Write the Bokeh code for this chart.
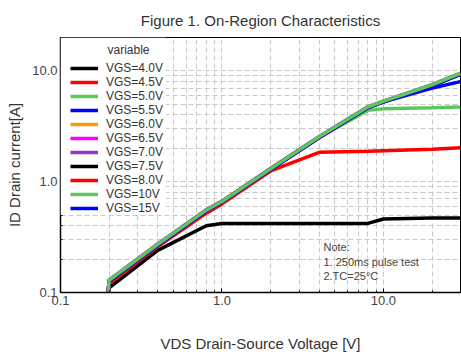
from bokeh.plotting import figure
from bokeh.models import (Range1d, FixedTicker, PrintfTickFormatter, Legend, LegendItem,
                          Label, BoxAnnotation)
from bokeh.embed import file_html
from bokeh.resources import INLINE

# ---- data ----
vds = [0.195, 0.2, 0.4, 0.8, 1.0, 2.0, 4.0, 8.0, 10.0, 20.0, 30.0]

vgs_labels = ["VGS=4.0V", "VGS=4.5V", "VGS=5.0V", "VGS=5.5V", "VGS=6.0V", "VGS=6.5V",
              "VGS=7.0V", "VGS=7.5V", "VGS=8.0V", "VGS=10V", "VGS=15V"]

id_4v0 = [0.08, 0.11, 0.24, 0.40, 0.42, 0.42, 0.42, 0.42, 0.46, 0.47, 0.47]
id_4v5 = [0.08, 0.12, 0.26, 0.52, 0.63, 1.25, 1.84, 1.88, 1.90, 1.96, 2.02]
id_5v0 = [0.08, 0.128, 0.27, 0.55, 0.66, 1.30, 2.50, 4.40, 4.55, 4.65, 4.72]
id_5v5 = [0.08, 0.128, 0.27, 0.55, 0.66, 1.30, 2.52, 4.65, 5.25, 7.00, 8.00]
id_6v0 = [0.08, 0.128, 0.27, 0.55, 0.66, 1.30, 2.52, 4.70, 5.30, 7.35, 9.30]
id_6v5 = [0.08, 0.128, 0.27, 0.55, 0.66, 1.30, 2.53, 4.70, 5.30, 7.40, 9.40]
id_7v0 = [0.08, 0.130, 0.274, 0.558, 0.668, 1.315, 2.56, 4.74, 5.34, 7.50, 9.55]
id_7v5 = [0.08, 0.127, 0.268, 0.548, 0.658, 1.295, 2.52, 4.68, 5.28, 7.38, 9.38]
id_8v0 = [0.08, 0.125, 0.266, 0.543, 0.652, 1.285, 2.49, 4.66, 5.26, 7.35, 9.35]
id_10v = [0.08, 0.129, 0.272, 0.553, 0.663, 1.305, 2.54, 4.72, 5.32, 7.47, 9.52]
id_15v = [0.08, 0.126, 0.267, 0.545, 0.654, 1.29, 2.50, 4.64, 5.24, 7.32, 9.30]

series = [id_4v0, id_4v5, id_5v0, id_5v5, id_6v0, id_6v5, id_7v0, id_7v5, id_8v0, id_10v, id_15v]
colors = ["#000000", "#ff0000", "#5cc85c", "#0000ff", "#ff9900", "#ff00ff",
          "#9933cc", "#000000", "#ff0000", "#5cc85c", "#0000ff"]
# drawing order (VGS=10V drawn last so it sits on top of the bundle)
draw_order = [0, 1, 2, 3, 4, 5, 6, 7, 8, 10, 9]

x_major = [0.1, 1.0, 10.0]
x_minor = [0.2, 0.3, 0.4, 0.5, 0.6, 0.7, 0.8, 0.9, 2, 3, 4, 5, 6, 7, 8, 9, 20, 30]
y_major = [0.1, 1.0, 10.0]
y_minor = [0.2, 0.3, 0.4, 0.5, 0.6, 0.7, 0.8, 0.9, 2, 3, 4, 5, 6, 7, 8, 9, 20]

title_text = "Figure 1. On-Region Characteristics"
x_label = "VDS Drain-Source Voltage [V]"
y_label = "ID Drain current[A]"
legend_title = "variable"
note_text = "Note:\n1. 250ms pulse test\n2.TC=25°C"

FONT = "Liberation Sans"

p = figure(width=461, height=356, x_axis_type="log", y_axis_type="log",
           x_range=Range1d(0.1, 30), y_range=Range1d(0.1, 20),
           output_backend="svg", toolbar_location=None, title=title_text,
           min_border_left=60, min_border_right=1, min_border_top=37, min_border_bottom=64)

p.title.align = "center"
p.title.text_font = FONT
p.title.text_font_size = "15px"
p.title.text_font_style = "normal"
p.title.text_color = "#333333"
p.title.standoff = 18

p.outline_line_color = "#000000"
p.outline_line_width = 1

for ax, maj, mnr in ((p.xaxis[0], x_major, x_minor), (p.yaxis[0], y_major, y_minor)):
    ax.ticker = FixedTicker(ticks=maj, minor_ticks=mnr)
    ax.formatter = PrintfTickFormatter(format="%.1f")
    ax.major_tick_in = 4
    ax.major_tick_out = 0
    ax.minor_tick_in = 2
    ax.minor_tick_out = 0
    ax.axis_line_color = "#000000"
    ax.axis_line_width = 1.5
    ax.major_label_text_font = FONT
    ax.major_label_text_font_size = "13px"
    ax.major_label_text_color = "#444444"
    ax.axis_label_text_font = FONT
    ax.axis_label_text_font_size = "15px"
    ax.axis_label_text_font_style = "normal"
    ax.axis_label_text_color = "#333333"
    ax.major_label_standoff = 3

p.xaxis.axis_label = x_label
p.xaxis.axis_label_standoff = 27
p.yaxis.axis_label = y_label
p.yaxis.axis_label_standoff = 6

for g in (p.xgrid[0], p.ygrid[0]):
    g.grid_line_color = "#c8c8c8"
    g.grid_line_dash = "5 3"
    g.grid_line_width = 1
    g.minor_grid_line_color = "#c8c8c8"
    g.minor_grid_line_dash = "5 3"
    g.minor_grid_line_width = 1

renderers = {}
for i in draw_order:
    renderers[i] = p.line(vds, series[i], line_color=colors[i], line_width=3.5)
items = [LegendItem(label=vgs_labels[i], renderers=[renderers[i]]) for i in range(len(series))]

# white panel behind the legend (legend itself is transparent)
legend_bg = BoxAnnotation(left=0.1, right=0.45, top=20, bottom=0.5,
                          fill_color="white", fill_alpha=1.0, line_alpha=0)
p.add_layout(legend_bg)

legend = Legend(items=items, location="top_left", title=" ")
legend.title_text_font = FONT
legend.title_text_font_size = "12px"
legend.title_standoff = 0
legend.label_text_font = FONT
legend.label_text_font_size = "12px"
legend.label_text_color = "#333333"
legend.label_height = 14
legend.glyph_height = 14
legend.glyph_width = 28
legend.label_standoff = 8
legend.spacing = 0
legend.padding = 10
legend.margin = 0
legend.border_line_alpha = 0
legend.background_fill_alpha = 0
p.add_layout(legend)

title_lbl = Label(x=0.1, y=20, x_offset=47, y_offset=-5, text=legend_title,
                  text_font=FONT, text_font_size="12px", text_color="#333333",
                  text_baseline="top", text_align="left", level="overlay")
p.add_layout(title_lbl)

note = Label(x=4.25, y=0.29, text=note_text, text_font=FONT, text_font_size="11px",
             text_color="#444444", text_baseline="top", text_align="left")
p.add_layout(note)

open("out.html", "w").write(file_html(p, INLINE))
